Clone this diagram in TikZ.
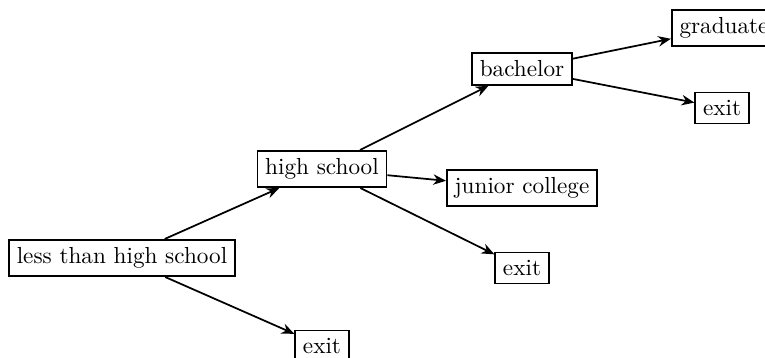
\documentclass[tikz,border=0pt]{standalone}
\usetikzlibrary{arrows.meta}
\begin{document}
\begin{tikzpicture}[x=0.431pt,y=-0.431pt,
  box/.style={draw,line width=0.75pt,inner sep=3.33pt},
  edge/.style={line width=0.75pt,-{Stealth[length=5.5pt,width=4.5pt,inset=1.8pt]}}]
\useasboundingbox (0,0) rectangle (765,358);
\node[box] (lths) at (122,258) {less than high school};
\node[box] (hs) at (322,169) {high school};
\node[box] (exA) at (322,346) {exit};
\node[box] (bach) at (522,69) {bachelor};
\node[box] (jc) at (522,188) {junior college};
\node[box] (exB) at (522,268) {exit};
\node[box] (grad) at (724,28) {graduate};
\node[box] (exC) at (722,108) {exit};
\draw[edge] (lths) -- (hs);
\draw[edge] (lths) -- (exA);
\draw[edge] (hs) -- (bach);
\draw[edge] (hs) -- (jc);
\draw[edge] (hs) -- (exB);
\draw[edge] (bach) -- (grad);
\draw[edge] (bach) -- (exC);
\end{tikzpicture}
\end{document}
